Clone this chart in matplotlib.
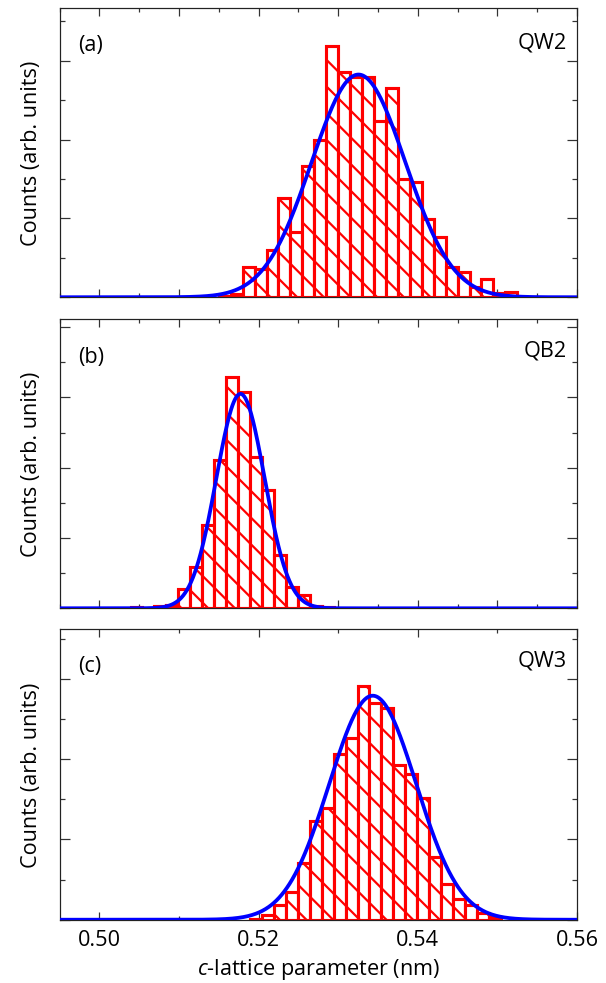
import numpy as np
import matplotlib
matplotlib.use("Agg")
import matplotlib.pyplot as plt
from matplotlib.ticker import MultipleLocator, FormatStrFormatter

plt.rcParams['font.family'] = ['Open Sans', 'DejaVu Sans']
plt.rcParams['mathtext.fontset'] = 'custom'
plt.rcParams['mathtext.rm'] = 'Open Sans'
plt.rcParams['mathtext.it'] = 'Open Sans:italic'
plt.rcParams['hatch.color'] = 'red'
plt.rcParams['hatch.linewidth'] = 2.0

# histogram bins (nm)
bin_width = 0.0015
a_first_edge = 0.5150
b_first_edge = 0.50392
c_first_edge = 0.51893

# counts per bin (arb. units)
a_counts = [0.4, 0.9, 7.8, 7.2, 11.9, 25.3, 16.5, 33.4, 40.0, 63.8, 57.2, 55.9, 55.9,
            44.6, 53.2, 30.0, 29.2, 19.8, 15.2, 7.8, 6.5, 2.7, 4.6, 1.0, 1.3]
b_counts = [0.3, 0.0, 0.6, 1.0, 5.5, 11.8, 23.6, 42.1, 65.9, 61.5, 43.0, 33.7, 15.2,
            6.1, 3.7, 0.6, 0.4]
c_counts = [0.2, 1.1, 3.7, 6.9, 14.1, 24.5, 27.8, 41.2, 45.2, 58.1, 54.0, 52.8, 38.5,
            36.4, 30.4, 15.6, 8.9, 5.1, 3.6, 1.6, 0.8]

# gaussian fits: amplitude, centre (nm), sigma (nm)
a_fit = [56.5, 0.53255, 0.00589]
b_fit = [61.0, 0.51773, 0.00303]
c_fit = [55.8, 0.53434, 0.00546]

panel_tags = ["(a)", "(b)", "(c)"]
layer_names = ["QW2", "QB2", "QW3"]
y_tops = [73.4, 82.3, 72.4]
x_range = [0.495, 0.56]

first_edges = [a_first_edge, b_first_edge, c_first_edge]
all_counts = [a_counts, b_counts, c_counts]
fits = [a_fit, b_fit, c_fit]

# axes boxes in figure fraction (left, bottom, width, height)
boxes = [[0.0982, 0.6969, 0.854, 0.2940],
         [0.0982, 0.3808, 0.854, 0.2940],
         [0.0982, 0.0643, 0.854, 0.2954]]
tag_y = [0.875, 0.872, 0.876]
name_y = [0.882, 0.892, 0.893]

fig = plt.figure(figsize=(6.06 / 0.8, 9.84 / 0.8), dpi=80)
xs = np.linspace(x_range[0], x_range[1], 800)

for i in range(3):
    ax = fig.add_axes(boxes[i])
    counts = np.array(all_counts[i])
    lefts = first_edges[i] + bin_width * np.arange(len(counts))
    ax.bar(lefts, counts, width=bin_width, align='edge', facecolor='white',
           edgecolor='red', linewidth=2.8, hatch='\\', zorder=2)

    amp, mu, sig = fits[i]
    ax.plot(xs, amp * np.exp(-0.5 * ((xs - mu) / sig) ** 2), color='#0000ff',
            lw=3.4, zorder=3, solid_capstyle='butt')

    ax.set_xlim(x_range)
    ax.set_ylim(0, y_tops[i])
    ax.yaxis.set_major_locator(MultipleLocator(20))
    ax.yaxis.set_minor_locator(MultipleLocator(10))
    if i == 2:
        ax.xaxis.set_major_locator(MultipleLocator(0.02))
        ax.xaxis.set_minor_locator(MultipleLocator(0.01))
        ax.xaxis.set_major_formatter(FormatStrFormatter('%.2f'))
        ax.set_xlabel('$c$-lattice parameter (nm)', fontsize=19.5, labelpad=6)
    else:
        ax.xaxis.set_major_locator(MultipleLocator(0.01))
        ax.xaxis.set_minor_locator(MultipleLocator(0.005))

    ax.tick_params(axis='both', which='both', direction='in', top=True, right=True,
                   color='#333333', width=1.1)
    ax.tick_params(axis='x', which='major', length=7, labelsize=19.5, pad=8,
                   labelbottom=(i == 2))
    ax.tick_params(axis='x', which='minor', length=4)
    ax.tick_params(axis='y', which='major', length=9, labelleft=False)
    ax.tick_params(axis='y', which='minor', length=4.5)
    for s in ax.spines.values():
        s.set_linewidth(1.1)
        s.set_color('#222222')

    ax.set_ylabel('Counts (arb. units)', fontsize=19.5)
    ax.yaxis.set_label_coords(-0.033, 0.5)

    ax.text(0.036, tag_y[i], panel_tags[i], transform=ax.transAxes,
            fontsize=19.5, ha='left', va='center')
    ax.text(0.981, name_y[i], layer_names[i], transform=ax.transAxes,
            fontsize=19.5, ha='right', va='center')

fig.savefig('out.png', dpi=80)
